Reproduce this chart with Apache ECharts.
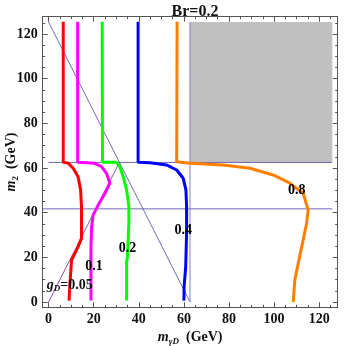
<!DOCTYPE html>
<html>
<head>
<meta charset="utf-8">
<script src="https://cdn.jsdelivr.net/npm/echarts@6/dist/echarts.min.js"></script>
<style>
  html, body { margin: 0; padding: 0; background: #fff; }
  #chart { width: 346px; height: 346px; }
</style>
</head>
<body>
<div id="chart"></div>
<script>
// contour lines of g_D as [m_gammaD, m2]
const gD005 = [[6.5,125.5],[6.5,62.6],[8.7,62.2],[10.9,59.9],[13.1,56.1],[14.2,50.2],[14.6,42.7],[14.6,35.2],[14.6,28.5],[13.1,24.8],[11.7,21.8],[10.2,18.8],[9.8,12.9],[9.4,6.9],[9.1,0.6]]
const gD01 = [[12.9,125.5],[12.9,62.6],[20.5,62.1],[23.5,60.6],[25.7,57.6],[27.2,53.2],[25.0,48.7],[22.0,43.4],[19.8,39.0],[19.1,33.7],[18.8,24.8],[18.8,12.9],[18.8,0.6]]
const gD02 = [[23.8,125.5],[23.9,62.6],[30.1,62.6],[31.6,60.6],[33.1,56.1],[34.6,50.2],[35.6,42.7],[35.6,35.2],[35.3,27.8],[35.0,20.3],[34.6,18.0],[34.6,0.6]]
const gD04 = [[39.7,125.5],[39.7,62.6],[44.9,62.4],[52.3,61.4],[56.8,59.1],[59.7,55.4],[60.9,50.2],[61.2,42.7],[61.2,30.8],[60.8,15.8],[60.1,6.9],[60.0,0.6]]
const gD08 = [[57.0,125.5],[56.8,62.8],[62.7,62.1],[77.4,61.4],[89.3,59.9],[99.6,56.9],[107.0,53.2],[112.9,48.7],[115.1,41.2],[114.4,35.2],[112.9,27.8],[110.7,17.3],[109.2,9.9],[108.5,0]]

// guide lines
const hLine62 = [[0,62.5],[125.8,62.5]]
const hLine42 = [[-2.6,41.7],[125.8,41.7]]
const vLine62 = [[62.7,0],[62.7,125.4]]
const diagDown = [[0,125.4],[62.7,0]]
const diagUp = [[0,0],[31.4,62.5]]
const excluded = [[62.7,62.5],[125.8,125.4]]

// contour labels
const labelPts = [
  { value: [9.4, 7.6], name: '{i|g}{s|D}{b|=0.05}' },
  { value: [20.2, 15.8], name: '0.1' },
  { value: [35, 24], name: '0.2' },
  { value: [59.7, 31.9], name: '0.4' },
  { value: [110, 50.2], name: '0.8' }
]

const majorTicks = [0, 20, 40, 60, 80, 100, 120]
const minorTicks = [5, 10, 15, 25, 30, 35, 45, 50, 55, 65, 70, 75, 85, 90, 95, 105, 110, 115, 125]

const font = 'Liberation Serif'
const frameColor = '#555'
const textColor = '#111'

function axis(pos, ticks, len, labels, min, max) {
  return {
    type: 'value',
    position: pos,
    min: min,
    max: max,
    splitLine: { show: false },
    axisLine: { show: true, onZero: false, lineStyle: { color: frameColor, width: 1 } },
    axisTick: { show: true, inside: true, length: len, customValues: ticks, lineStyle: { color: frameColor } },
    axisLabel: labels ? {
      show: true, customValues: majorTicks, margin: 5,
      fontFamily: font, fontWeight: 'bold', fontSize: 14, color: textColor
    } : { show: false }
  }
}

function contour(data, color) {
  return {
    type: 'line', data: data, showSymbol: false, symbol: 'none',
    lineStyle: { color: color, width: 3 }, z: 3, silent: true
  }
}

function guide(data, color) {
  return {
    type: 'line', data: data, showSymbol: false, symbol: 'none',
    lineStyle: { color: color, width: 1 }, z: 2, silent: true
  }
}

const richText = {
  i: { fontFamily: font, fontStyle: 'italic', fontWeight: 'bold', fontSize: 14, color: textColor, lineHeight: 17 },
  s: { fontFamily: font, fontStyle: 'italic', fontWeight: 'bold', fontSize: 9, color: textColor, lineHeight: 9, verticalAlign: 'bottom' },
  n: { fontFamily: font, fontWeight: 'bold', fontSize: 9, color: textColor, lineHeight: 9, verticalAlign: 'bottom' },
  b: { fontFamily: font, fontWeight: 'bold', fontSize: 14, color: textColor, lineHeight: 17 }
}

const chart = echarts.init(document.getElementById('chart'))

const xMin = -2.6, xMax = 128.2, yMin = -2.4, yMax = 127.8

chart.setOption({
  animation: false,
  title: {
    text: 'Br=0.2', left: 190, top: -1, textAlign: 'center',
    textStyle: { fontFamily: font, fontWeight: 'bold', fontSize: 16, color: textColor }
  },
  grid: { left: 42.7, right: 8.3, top: 16.7, bottom: 38.7, outerBoundsMode: 'none', containLabel: false },
  xAxis: [
    Object.assign(axis('bottom', majorTicks, 5, true, xMin, xMax), {
      name: '{i|m}{s|γD}{b|  (GeV)}', nameLocation: 'middle', nameGap: 22, nameMoveOverlap: false,
      nameTextStyle: { rich: richText }
    }),
    axis('bottom', minorTicks, 2.5, false, xMin, xMax),
    axis('top', majorTicks, 5, false, xMin, xMax),
    axis('top', minorTicks, 2.5, false, xMin, xMax)
  ],
  yAxis: [
    Object.assign(axis('left', majorTicks, 5, true, yMin, yMax), {
      name: '{i|m}{n|2}{b|  (GeV)}', nameLocation: 'middle', nameGap: 23, nameMoveOverlap: false,
      nameTextStyle: { rich: richText }
    }),
    axis('left', minorTicks, 2.5, false, yMin, yMax),
    axis('right', majorTicks, 5, false, yMin, yMax),
    axis('right', minorTicks, 2.5, false, yMin, yMax)
  ],
  series: [
    {
      type: 'line', data: [], silent: true,
      markArea: {
        silent: true,
        itemStyle: { color: '#c0c0c0' },
        data: [[{ coord: excluded[0] }, { coord: excluded[1] }]]
      },
      z: 1
    },
    guide(hLine62, '#6c6cb8'),
    guide(hLine42, '#6c6cb8'),
    guide(vLine62, '#8080c8'),
    guide(diagDown, '#6c6cb8'),
    guide(diagUp, '#9050a8'),
    contour(gD005, '#ff0000'),
    contour(gD01, '#ff00ff'),
    contour(gD02, '#00ff00'),
    contour(gD04, '#0000ff'),
    contour(gD08, '#ff8000'),
    {
      type: 'scatter', data: labelPts, symbolSize: 0, z: 5, silent: true,
      itemStyle: { opacity: 1 },
      label: {
        show: true, position: 'inside', formatter: p => p.name, opacity: 1,
        fontFamily: font, fontWeight: 'bold', fontSize: 14, color: '#000',
        rich: richText
      }
    }
  ]
})
</script>
</body>
</html>
